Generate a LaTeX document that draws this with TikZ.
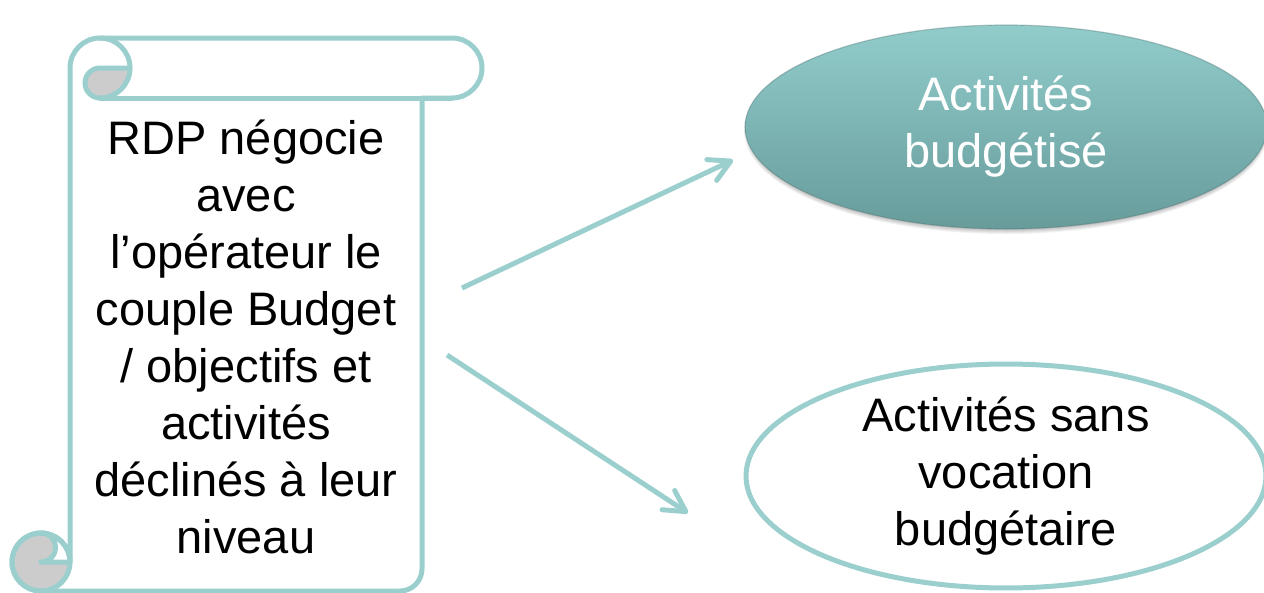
\documentclass[tikz,border=0pt]{standalone}
\usepackage{fontspec}
\setmainfont{Liberation Sans}
\usetikzlibrary{shapes.geometric,arrows.meta}
\definecolor{tealline}{RGB}{155,207,206}
\definecolor{curlgray}{RGB}{204,204,204}
\definecolor{eltop}{RGB}{145,204,203}
\definecolor{elmid}{RGB}{123,183,182}
\definecolor{elbot}{RGB}{103,156,155}
\begin{document}
\begin{tikzpicture}[x=1pt,y=-1pt,
  scrollline/.style={draw=tealline, line width=5pt, line join=round, line cap=round},
  bigtext/.style={font=\fontsize{47}{57}\selectfont, align=center, inner sep=0pt},
  conn/.style={draw=tealline, line width=5pt,
    -{Straight Barb[length=21pt,width=23pt,line cap=round,line join=round]}}]
\useasboundingbox (0,0) rectangle (1264,592);
% ---------- scroll fills ----------
\fill[white] (70,68) arc[start angle=180,end angle=270,radius=30] -- (452,38)
  arc[start angle=-90,end angle=90,radius=30] -- (422,98) -- (422,569)
  arc[start angle=0,end angle=90,radius=22] -- (41,591)
  arc[start angle=90,end angle=360,radius=29] -- (70,68) -- cycle;
\fill[curlgray] (41,562) circle[radius=29];
\fill[white] (41,533) arc[start angle=-90,end angle=0,radius=29] -- (41,562)
  arc[start angle=90,end angle=-90,radius=14.5] -- cycle;
\fill[curlgray] (130,68) arc[start angle=0,end angle=90,radius=30]
  arc[start angle=90,end angle=270,radius=15] -- cycle;
% ---------- scroll strokes ----------
\draw[scrollline] (70,68) arc[start angle=180,end angle=270,radius=30] -- (452,38)
  arc[start angle=-90,end angle=90,radius=30] -- (422,98) -- (422,569)
  arc[start angle=0,end angle=90,radius=22] -- (41,591)
  arc[start angle=90,end angle=360,radius=29] -- (70,68);
\draw[scrollline] (41,562) circle[radius=29];
\draw[scrollline] (70,562) -- (41,562) arc[start angle=90,end angle=-90,radius=14.5];
\draw[scrollline] (130,68) arc[start angle=0,end angle=90,radius=30]
  arc[start angle=90,end angle=270,radius=15] -- cycle;
\draw[scrollline] (100,38) arc[start angle=270,end angle=360,radius=30];
\draw[scrollline] (100,98) -- (452,98);
\node[bigtext] (scrolltext) at (246,337) {RDP négocie\\avec\\l’opérateur le\\couple Budget\\/ objectifs et\\activités\\déclinés à leur\\niveau};
% ---------- top ellipse with soft shadow ----------
\foreach \d in {0,1,2,3,4}{
  \fill[black, opacity=0.05] (1006,131) ellipse[x radius={258+\d}, y radius={99+\d}];
}
\node[ellipse, shading=axis, top color=eltop, middle color=elmid, bottom color=elbot,
  draw=elbot!70!black, draw opacity=0.35, line width=1.2pt,
  minimum width=522pt, minimum height=204pt, inner sep=0pt,
  text=white, bigtext] (budg) at (1006,127) {Activités\\budgétisé};
% ---------- bottom ellipse ----------
\node[ellipse, draw=tealline, line width=5pt, fill=white,
  minimum width=520pt, minimum height=208pt, inner sep=0pt,
  bigtext] (sansvoc) at (1006,476) {Activités sans\\vocation\\budgétaire};
% ---------- connectors ----------
\coordinate (a1s) at (462,288);
\coordinate (a1e) at (733,160);
\coordinate (a2s) at (447,355);
\coordinate (a2e) at (688,513);
\draw[conn] (a1s) -- (a1e);
\draw[conn] (a2s) -- (a2e);
\end{tikzpicture}
\end{document}
